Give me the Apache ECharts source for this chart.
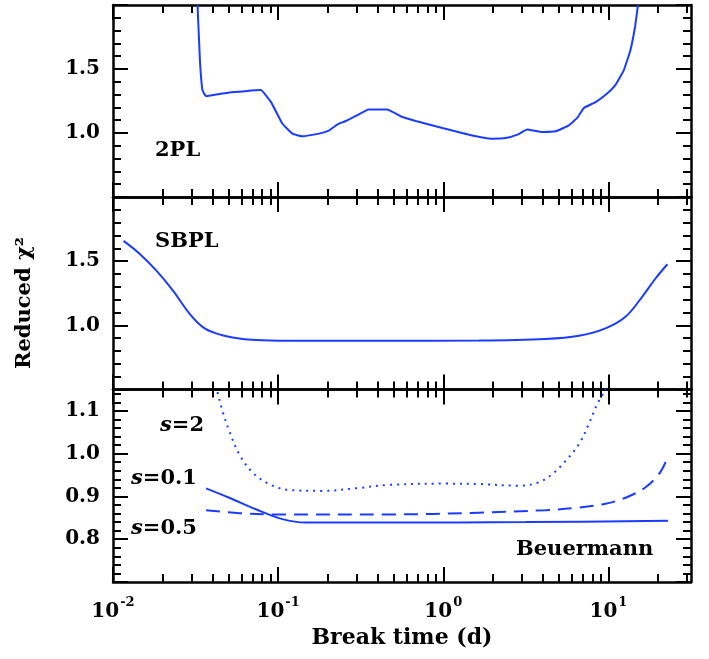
<!DOCTYPE html>
<html><head><meta charset="utf-8">
<script src="https://cdn.jsdelivr.net/npm/echarts@6/dist/echarts.min.js"></script>
<style>html,body{margin:0;padding:0;background:#fff}#c{width:709px;height:659px}</style>
</head><body><div id="c"></div>
<script>
const FONT = 'DejaVu Serif';
const BLUE = '#1b3cff';

// x axis (log) range and ticks
const X_MIN = 0.01;
const X_MAX = 31.62;
const xMajor = [0.01, 0.1, 1, 10];
const xMinor = [0.02,0.03,0.04,0.05,0.06,0.07,0.08,0.09,
                0.2,0.3,0.4,0.5,0.6,0.7,0.8,0.9,
                2,3,4,5,6,7,8,9,20,30];

// y ticks
const yMajorTop = [0.5, 1.0, 1.5, 2.0];
const yMinorTop = [0.6,0.7,0.8,0.9,1.1,1.2,1.3,1.4,1.6,1.7,1.8,1.9];
const yLabelsTop = [1.0, 1.5];
const yMajorBot = [0.7, 0.8, 0.9, 1.0, 1.1];
const yMinorBot = [0.72,0.74,0.76,0.78,0.82,0.84,0.86,0.88,0.92,0.94,0.96,0.98,1.02,1.04,1.06,1.08,1.12,1.14];
const yLabelsBot = [0.8, 0.9, 1.0, 1.1];

// Panel 1: 2PL
const t2PL = [0.0325,0.0336,0.0348,0.0366,0.0506,0.0785,0.0904,0.106,0.122,0.140,0.177,0.204,0.229,0.257,0.302,0.352,0.458,0.552,0.681,0.986,1.43,1.98,2.39,2.81,3.22,3.97,4.79,5.75,6.47,7.10,8.36,9.82,11.0,12.4,13.6,14.5,15.1];
const chi2PL = [2.0,1.57,1.335,1.288,1.317,1.335,1.243,1.074,0.995,0.974,0.995,1.021,1.068,1.094,1.139,1.184,1.184,1.131,1.094,1.039,0.987,0.956,0.961,0.987,1.027,1.008,1.013,1.06,1.118,1.196,1.241,1.309,1.374,1.492,1.649,1.832,2.0];

// Panel 2: SBPL
const tSBPL = [0.01159,0.01442,0.0182,0.02296,0.02897,0.03483,0.04198,0.05297,0.07328,0.1167,0.4699,1.644,4.159,6.622,9.594,12.68,16.0,19.28,22.75];
const chiSBPL = [1.658,1.56,1.43,1.274,1.093,0.988,0.937,0.906,0.885,0.879,0.879,0.881,0.893,0.918,0.976,1.066,1.222,1.365,1.476];

// Panel 3: Beuermann
const tS01 = [0.0366,0.0506,0.0733,0.106,0.147,0.47,3.16,22.96];
const chiS01 = [0.919,0.897,0.870,0.847,0.839,0.839,0.840,0.843];
const tS05 = [0.0366,0.058,0.093,0.47,1.644,4.159,6.622,9.594,12.7,16.7,20.2,22.3];
const chiS05 = [0.868,0.861,0.858,0.858,0.862,0.868,0.874,0.883,0.897,0.921,0.952,0.982];
const tS2 = [0.042,0.043,0.046,0.0506,0.0581,0.070,0.0883,0.1167,0.1854,0.295,0.47,1.035,1.644,2.87,3.79,4.56,5.50,6.62,7.60,8.55,9.38,9.77];
const chiS2 = [1.16,1.143,1.1,1.053,0.999,0.956,0.929,0.915,0.913,0.919,0.927,0.930,0.929,0.925,0.933,0.952,0.983,1.022,1.069,1.116,1.143,1.16];

const grids = [
  {left:113, width:578, top:5, height:192},
  {left:113, width:578, top:197, height:192.5},
  {left:113, width:578, top:389.5, height:192.5}
];

const axLine = {show:true, onZero:false, lineStyle:{color:'#000', width:2.5}};
const noLine = {show:false, onZero:false};
const tick = (vals, len) => ({show:true, inside:true, length:len, customValues:vals, lineStyle:{color:'#000', width:2}});

function xAxesFor(g) {
  const base = {gridIndex:g, type:'log', logBase:10, min:X_MIN, max:X_MAX,
    splitLine:{show:false}, minorTick:{show:false}, axisLabel:{show:false}};
  const main = Object.assign({}, base, {position:'bottom', axisLine:axLine, axisTick:tick(xMajor,15)});
  if (g === 2) {
    main.axisLabel = {show:true, customValues:xMajor, margin:14,
      formatter: v => '{b|10}{s|' + Math.round(Math.log10(v)) + '}',
      rich:{
        b:{fontFamily:FONT, fontWeight:'bold', fontSize:20, color:'#000', lineHeight:26, verticalAlign:'bottom'},
        s:{fontFamily:FONT, fontWeight:'bold', fontSize:13, color:'#000', lineHeight:14, verticalAlign:'top', padding:[0,0,0,1]}
      }};
    main.name = 'Break time (d)';
    main.nameLocation = 'middle';
    main.nameGap = 45;
    main.nameTextStyle = {fontFamily:FONT, fontWeight:'bold', fontSize:22, color:'#000'};
  }
  return [
    main,
    Object.assign({}, base, {position:'bottom', axisLine:noLine, axisTick:tick(xMinor,8)}),
    Object.assign({}, base, {position:'top', axisLine:axLine, axisTick:tick(xMajor,15)}),
    Object.assign({}, base, {position:'top', axisLine:noLine, axisTick:tick(xMinor,8)})
  ];
}

function yAxesFor(g, min, max, major, minor, labels) {
  const base = {gridIndex:g, type:'value', min:min, max:max, splitLine:{show:false}, axisLabel:{show:false}};
  return [
    Object.assign({}, base, {position:'left', axisLine:axLine, axisTick:tick(major,15),
      axisLabel:{show:true, customValues:labels, margin:13, formatter: v => v.toFixed(1),
        fontFamily:FONT, fontWeight:'bold', fontSize:20, color:'#000'}}),
    Object.assign({}, base, {position:'left', axisLine:noLine, axisTick:tick(minor,8)}),
    Object.assign({}, base, {position:'right', axisLine:axLine, axisTick:tick(major,15)}),
    Object.assign({}, base, {position:'right', axisLine:noLine, axisTick:tick(minor,8)})
  ];
}

const xAxis = [].concat(xAxesFor(0), xAxesFor(1), xAxesFor(2));
const yAxis = [].concat(
  yAxesFor(0, 0.5, 2.0, yMajorTop, yMinorTop, yLabelsTop),
  yAxesFor(1, 0.5, 2.0, yMajorTop, yMinorTop, yLabelsTop),
  yAxesFor(2, 0.7, 1.15, yMajorBot, yMinorBot, yLabelsBot)
);

function line(name, g, ts, vs, type, smooth) {
  return {name:name, type:'line', xAxisIndex:4*g, yAxisIndex:4*g,
    data: ts.map((t,i) => [t, vs[i]]), showSymbol:false, symbol:'none',
    smooth:smooth, clip:true, animation:false,
    lineStyle:{color:BLUE, width:2, type:type}};
}

const series = [
  line('2PL', 0, t2PL, chi2PL, 'solid', 0.1),
  line('SBPL', 1, tSBPL, chiSBPL, 'solid', 0.35),
  line('s=0.1', 2, tS01, chiS01, 'solid', 0.35),
  line('s=0.5', 2, tS05, chiS05, [14,8], 0.35),
  line('s=2', 2, tS2, chiS2, [2,5], 0.35)
];

const ANN = 'bold 21px "DejaVu Serif"';
const txt = (text, x, y) => ({type:'text', silent:true, style:{
  text:text, x:x, y:y, fill:'#000', font:ANN, align:'left', verticalAlign:'middle',
  rich:{i:{fontFamily:FONT, fontWeight:'bold', fontSize:21, fontStyle:'italic', fill:'#000'}}
}});

const graphic = [
  txt('2PL', 155, 151),
  txt('SBPL', 155, 242),
  txt('{i|s}=2', 160, 426),
  txt('{i|s}=0.1', 131, 479),
  txt('{i|s}=0.5', 131, 529),
  txt('Beuermann', 516, 550),
  {type:'text', silent:true, x:25, y:303, rotation:Math.PI/2, style:{
    text:'Reduced χ²', x:0, y:0, fill:'#000', font:'bold 21px "DejaVu Serif"', align:'center', verticalAlign:'middle'}}
];

const chart = echarts.init(document.getElementById('c'), null, {renderer:'canvas'});
chart.setOption({
  animation:false,
  backgroundColor:'#fff',
  grid:grids, xAxis:xAxis, yAxis:yAxis, series:series, graphic:graphic
});
</script>
</body></html>
